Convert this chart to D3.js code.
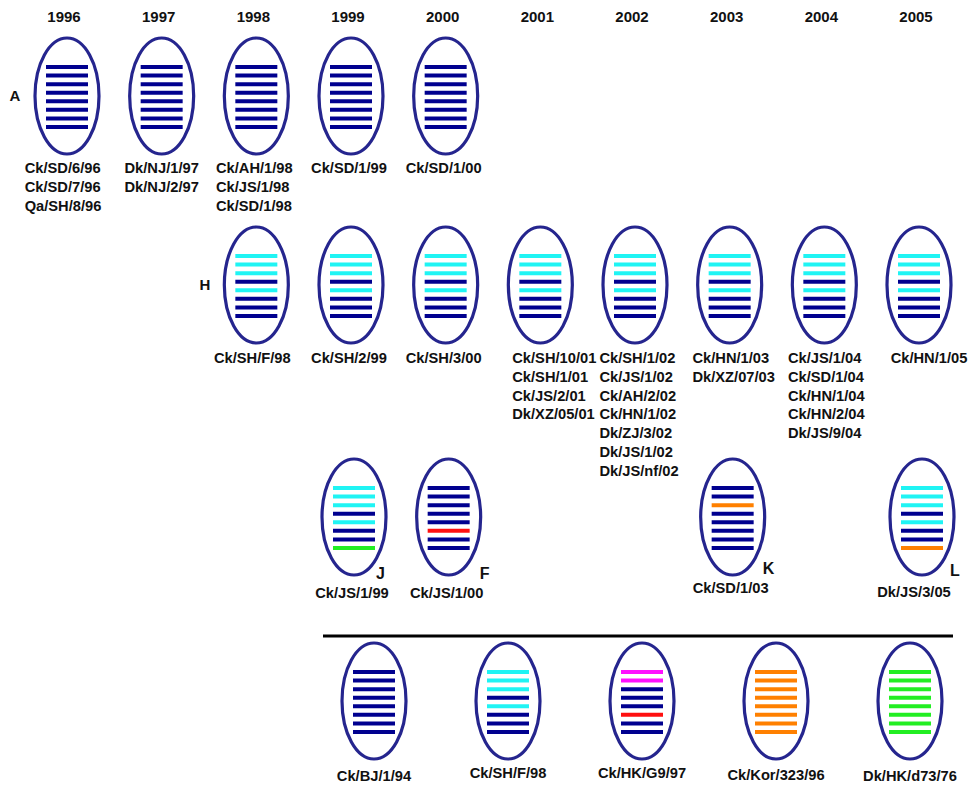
<!DOCTYPE html>
<html>
<head>
<meta charset="utf-8">
<script src="https://cdn.jsdelivr.net/npm/d3@7"></script>
<style>
  body { margin: 0; background: #fff; }
  text { font-family: "Liberation Sans", Arial, sans-serif; font-weight: bold; fill: #111; }
</style>
</head>
<body>
<svg id="chart" width="970" height="789"></svg>
<script>
// Isolation years along the top
const years = ['1996', '1997', '1998', '1999', '2000', '2001', '2002', '2003', '2004', '2005'];

// Eight gene segments per virus, top to bottom; each letter names the lineage of one segment
const lineageColors = { N: '#00008f', C: '#1ff4f4', G: '#22ee22', R: '#ff1010', O: '#ff8000', M: '#ff10ff' };

// Genotype A
const genotypeAYears = ['1996', '1997', '1998', '1999', '2000'];
const genotypeASegments = 'NNNNNNNN';
const genotypeAStrains = [
  ['Ck/SD/6/96', 'Ck/SD/7/96', 'Qa/SH/8/96'],
  ['Dk/NJ/1/97', 'Dk/NJ/2/97'],
  ['Ck/AH/1/98', 'Ck/JS/1/98', 'Ck/SD/1/98'],
  ['Ck/SD/1/99'],
  ['Ck/SD/1/00']
];

// Genotype H
const genotypeHYears = ['1998', '1999', '2000', '2001', '2002', '2003', '2004', '2005'];
const genotypeHSegments = 'CCCNCNNN';
const genotypeHStrains = [
  ['Ck/SH/F/98'],
  ['Ck/SH/2/99'],
  ['Ck/SH/3/00'],
  ['Ck/SH/10/01', 'Ck/SH/1/01', 'Ck/JS/2/01', 'Dk/XZ/05/01'],
  ['Ck/SH/1/02', 'Ck/JS/1/02', 'Ck/AH/2/02', 'Ck/HN/1/02', 'Dk/ZJ/3/02', 'Dk/JS/1/02', 'Dk/JS/nf/02'],
  ['Ck/HN/1/03', 'Dk/XZ/07/03'],
  ['Ck/JS/1/04', 'Ck/SD/1/04', 'Ck/HN/1/04', 'Ck/HN/2/04', 'Dk/JS/9/04'],
  ['Ck/HN/1/05']
];

// Single-isolate genotypes
const minorGenotypes = ['J', 'F', 'K', 'L'];
const minorYears = ['1999', '2000', '2003', '2005'];
const minorStrains = ['Ck/JS/1/99', 'Ck/JS/1/00', 'Ck/SD/1/03', 'Dk/JS/3/05'];
const minorSegments = ['CCCNCNNG', 'NNNNNRNN', 'NNONNNNN', 'CCCNCNNO'];

// Reference (donor) viruses below the divider
const donorStrains = ['Ck/BJ/1/94', 'Ck/SH/F/98', 'Ck/HK/G9/97', 'Ck/Kor/323/96', 'Dk/HK/d73/76'];
const donorSegments = ['NNNNNNNN', 'CCCNCNNN', 'MMNNNRNN', 'OOOOOOOO', 'GGGGGGGG'];

const svg = d3.select('#chart');

const x = d3.scalePoint().domain(years).range([64, 916]);
const xDonor = d3.scalePoint().domain(donorStrains).range([374, 910]);

const rx = 32, ry = 58;
const segIndex = d3.range(8);
const segY = d3.scalePoint().domain(segIndex).range([-29, 31]);
const segHalf = 21;
const lineStep = 18.8;
const labelSize = '14.7px';

function drawVirus(g, cx, cy, segments) {
  const v = g.append('g').attr('transform', `translate(${cx},${cy})`);
  v.append('ellipse')
    .attr('rx', rx).attr('ry', ry)
    .attr('fill', '#fff')
    .attr('stroke', '#25258e')
    .attr('stroke-width', 3.2);
  v.selectAll('line.seg')
    .data(segIndex)
    .join('line')
    .attr('class', 'seg')
    .attr('x1', -segHalf).attr('x2', segHalf)
    .attr('y1', i => segY(i)).attr('y2', i => segY(i))
    .attr('stroke', i => lineageColors[segments[i]])
    .attr('stroke-width', 4);
}

// Strain names: left-aligned block centred under the virus (shifted by dx)
function drawStrains(g, cx, baseline, names, dx = 0) {
  const t = g.append('text')
    .attr('y', baseline)
    .style('font-size', labelSize);
  t.selectAll('tspan')
    .data(names)
    .join('tspan')
    .attr('dy', (d, i) => i === 0 ? 0 : lineStep)
    .text(d => d);
  const w = d3.max(t.selectAll('tspan').nodes(), n => n.getComputedTextLength());
  t.selectAll('tspan').attr('x', cx - w / 2 + dx);
}

// Year header
svg.append('g').selectAll('text')
  .data(years)
  .join('text')
  .attr('x', d => x(d))
  .attr('y', 22)
  .attr('text-anchor', 'middle')
  .style('font-size', '15px')
  .text(d => d);

// Genotype A row
const rowA = svg.append('g');
const rowAy = 96;
const rowAShift = [-4, 0, -2, -2, -2];
genotypeAYears.forEach((yr, i) => {
  drawVirus(rowA, x(yr) + 3, rowAy, genotypeASegments);
  drawStrains(rowA, x(yr) + 3, 173, genotypeAStrains[i], rowAShift[i]);
});
rowA.append('text').attr('x', 15).attr('y', rowAy + 5).attr('text-anchor', 'middle')
  .style('font-size', '15px').text('A');

// Genotype H row
const rowH = svg.append('g');
const rowHy = 285;
const rowHShift = [-4, -2, -2, 14, 4, 4, 2, 10];
genotypeHYears.forEach((yr, i) => {
  drawVirus(rowH, x(yr) + 3, rowHy, genotypeHSegments);
  drawStrains(rowH, x(yr) + 3, 363, genotypeHStrains[i], rowHShift[i]);
});
rowH.append('text').attr('x', 205).attr('y', rowHy + 5).attr('text-anchor', 'middle')
  .style('font-size', '15px').text('H');

// Minor genotypes row
const rowM = svg.append('g');
const rowMy = 517;
const letterDx = [22, 31, 30, 28];
const letterDy = [62, 62, 57, 59];
const minorBase = [598, 598, 593, 597];
minorGenotypes.forEach((gt, i) => {
  const cx = x(minorYears[i]) + 6;
  drawVirus(rowM, cx, rowMy, minorSegments[i]);
  rowM.append('text').attr('x', cx + letterDx[i]).attr('y', rowMy + letterDy[i])
    .style('font-size', '16px').text(gt);
  drawStrains(rowM, cx, minorBase[i], [minorStrains[i]], i === 3 ? -8 : -2);
});

// Divider
svg.append('line')
  .attr('x1', 323).attr('x2', 953)
  .attr('y1', 636).attr('y2', 636)
  .attr('stroke', '#000').attr('stroke-width', 3);

// Donor viruses
const rowD = svg.append('g');
const rowDy = 701;
const donorBase = [781, 778, 778, 780, 781];
donorStrains.forEach((s, i) => {
  drawVirus(rowD, xDonor(s), rowDy, donorSegments[i]);
  drawStrains(rowD, xDonor(s), donorBase[i], [s]);
});
</script>
</body>
</html>
